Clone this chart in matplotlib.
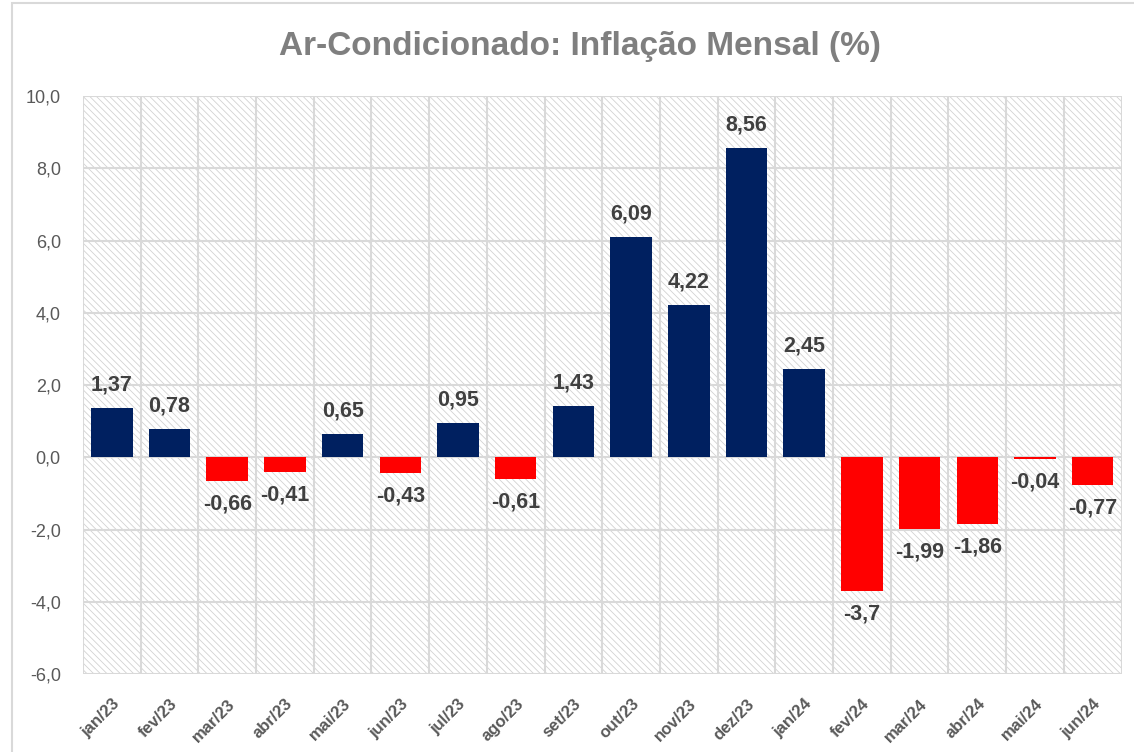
import matplotlib
matplotlib.use("Agg")
import matplotlib.pyplot as plt
from matplotlib.patches import Rectangle

plt.rcParams["font.family"] = ["Liberation Sans", "DejaVu Sans"]

# Data
months = ["jan/23", "fev/23", "mar/23", "abr/23", "mai/23", "jun/23",
          "jul/23", "ago/23", "set/23", "out/23", "nov/23", "dez/23",
          "jan/24", "fev/24", "mar/24", "abr/24", "mai/24", "jun/24"]
inflation = [1.37, 0.78, -0.66, -0.41, 0.65, -0.43,
             0.95, -0.61, 1.43, 6.09, 4.22, 8.56,
             2.45, -3.7, -1.99, -1.86, -0.04, -0.77]
y_ticks = [-6, -4, -2, 0, 2, 4, 6, 8, 10]

navy = "#002060"
red = "#ff0000"
grid_color = "#d9d9d9"

fig = plt.figure(figsize=(11.34, 7.52), dpi=100)
ax = fig.add_axes([0.0732, 0.1037, 0.9158, 0.7686])

# outer chart border
fig.patches.append(Rectangle((12 / 1134, -0.01), 1.0, 1 - 3 / 752 + 0.01,
                             transform=fig.transFigure, fill=False,
                             edgecolor=grid_color, lw=1.5, zorder=0))

# hatched plot area
ax.set_facecolor("white")
plt.rcParams["hatch.linewidth"] = 0.6
ax.add_patch(Rectangle((0, 0), 1, 1, transform=ax.transAxes,
                       facecolor="white", edgecolor="#d2d2d2",
                       hatch="\\\\\\\\\\", lw=0, zorder=0))

x = list(range(len(months)))
colors = [navy if v >= 0 else red for v in inflation]
ax.bar(x, inflation, width=0.72, color=colors, zorder=3)

# grid
for yv in y_ticks:
    ax.axhline(yv, color=grid_color, lw=1.5, zorder=1)
for i in range(len(months) + 1):
    ax.axvline(i - 0.5, color=grid_color, lw=1.5, zorder=1)

ax.set_xlim(-0.5, len(months) - 0.5)
ax.set_ylim(-6, 10)
for s in ax.spines.values():
    s.set_visible(False)

ax.set_yticks(y_ticks)
ax.set_yticklabels([f"{v:.1f}".replace(".", ",") for v in y_ticks],
                   fontsize=13, color="#595959")
ax.tick_params(axis="y", length=0, pad=16)
ax.set_xticks(x)
ax.set_xticklabels(months, rotation=45, ha="right", rotation_mode="anchor",
                   fontsize=12, fontweight="bold", color="#595959")
ax.tick_params(axis="x", length=0, pad=16)

# data labels
for xi, v in zip(x, inflation):
    label = f"{v:g}".replace(".", ",")
    offset = 9 if v >= 0 else -9
    va = "bottom" if v >= 0 else "top"
    ax.annotate(label, (xi, v), xytext=(0, offset), textcoords="offset points",
                ha="center", va=va, fontsize=15.5, fontweight="bold",
                color="#404040", zorder=4)

fig.text(0.5115, 0.938, "Ar-Condicionado: Inflação Mensal (%)", ha="center",
         va="center", fontsize=24, fontweight="bold", color="#7f7f7f")

fig.savefig("out.png", dpi=100)
